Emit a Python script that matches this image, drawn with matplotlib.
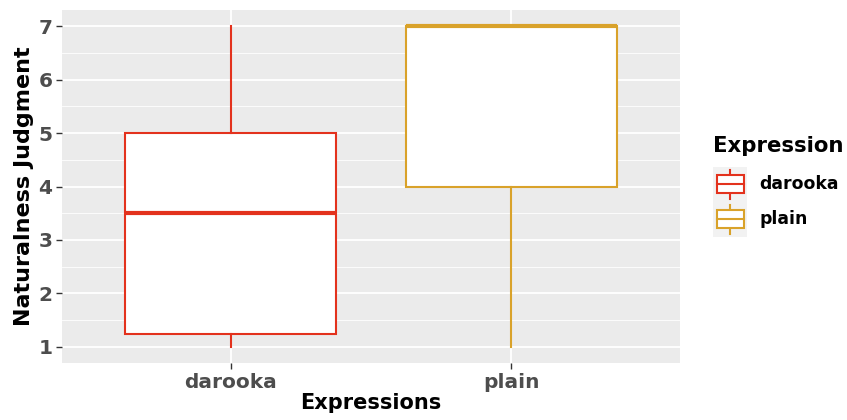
import matplotlib
matplotlib.use("Agg")
import matplotlib.pyplot as plt
from matplotlib.legend_handler import HandlerBase
from matplotlib.patches import Rectangle
from matplotlib.lines import Line2D

# Box statistics
groups = ["darooka", "plain"]
colors = ["#E3321D", "#D9A22A"]
whis_lo = [1.0, 1.0]
q1 = [1.25, 4.0]
medians = [3.5, 7.0]
q3 = [5.0, 7.0]
whis_hi = [7.0, 7.0]

plt.rcParams['font.family'] = ['DejaVu Sans']
plt.rcParams['font.weight'] = 'bold'

fig = plt.figure(figsize=(8.47, 4.2), dpi=100)
ax = fig.add_axes([62 / 847, 57 / 420, 618 / 847, 353 / 420])
ax.set_facecolor("#EBEBEB")

stats = []
for i, g in enumerate(groups):
    stats.append(dict(label=g, whislo=whis_lo[i], q1=q1[i], med=medians[i],
                      q3=q3[i], whishi=whis_hi[i], fliers=[]))

positions = list(range(1, len(groups) + 1))
for i, s in enumerate(stats):
    ax.bxp([s], positions=[positions[i]], widths=0.75, patch_artist=True,
           showcaps=False, zorder=3,
           boxprops=dict(facecolor="white", edgecolor=colors[i], linewidth=1.5),
           whiskerprops=dict(color=colors[i], linewidth=1.5),
           medianprops=dict(color=colors[i], linewidth=3, solid_capstyle="butt"))

ax.set_xlim(0.4, 2.6)
ax.set_ylim(0.7, 7.3)
ax.set_xticks(positions)
ax.set_xticklabels(groups)
ax.set_yticks(range(1, 8))
ax.set_yticks([1.5, 2.5, 3.5, 4.5, 5.5, 6.5], minor=True)
ax.grid(which="major", color="white", linewidth=1.3, zorder=0)
ax.grid(which="minor", axis="y", color="white", linewidth=0.6, zorder=0)
ax.set_axisbelow(True)
for sp in ax.spines.values():
    sp.set_visible(False)
ax.tick_params(which="major", length=4, color="#333333", width=1,
               labelsize=14.5, labelcolor="#4D4D4D", pad=3)
ax.tick_params(which="minor", length=0)
ax.set_xlabel("Expressions", fontsize=15, fontweight="bold", labelpad=1)
ax.set_ylabel("Naturalness Judgment", fontsize=16, fontweight="bold", labelpad=3)


class BoxHandler(HandlerBase):
    def __init__(self, sep):
        super().__init__()
        self.sep = sep

    def create_artists(self, legend, orig_handle, xdescent, ydescent,
                       width, height, fontsize, trans):
        c = orig_handle.get_color()
        x0, y0 = -xdescent, -ydescent
        pad = self.sep / 2
        full = height + 2 * pad
        bg = Rectangle((x0, y0 - pad), width, full,
                       facecolor="#F2F2F2", edgecolor="none", transform=trans)
        cx = x0 + width / 2
        bw = width * 0.78
        bh = full * 0.5
        by = y0 + (height - bh) / 2
        wl = full * 0.16
        box = Rectangle((cx - bw / 2, by), bw, bh,
                        facecolor="white", edgecolor=c, linewidth=1.5, transform=trans)
        mid = Line2D([cx - bw / 2, cx + bw / 2], [y0 + height / 2] * 2,
                     color=c, linewidth=1.5, transform=trans)
        w1 = Line2D([cx, cx], [by - wl, by], color=c, linewidth=1.5, transform=trans)
        w2 = Line2D([cx, cx], [by + bh, by + bh + wl],
                    color=c, linewidth=1.5, transform=trans)
        return [bg, w1, w2, box, mid]


leg_fs = 12.4
leg_ls = 0.15
handles = [Line2D([], [], color=c) for c in colors]
leg = fig.legend(handles, groups,
                 handler_map={Line2D: BoxHandler(leg_ls * leg_fs)},
                 loc="upper left", bbox_to_anchor=(713 / 847, 1 - 168 / 420),
                 frameon=False, fontsize=leg_fs,
                 handlelength=2.0, handleheight=2.52, labelspacing=leg_ls,
                 handletextpad=0.7, borderpad=0, borderaxespad=0)
fig.text(713 / 847, 1 - 146 / 420, "Expression", fontsize=15.3,
         fontweight="bold", ha="left", va="center")

fig.savefig("out.png", dpi=100)
